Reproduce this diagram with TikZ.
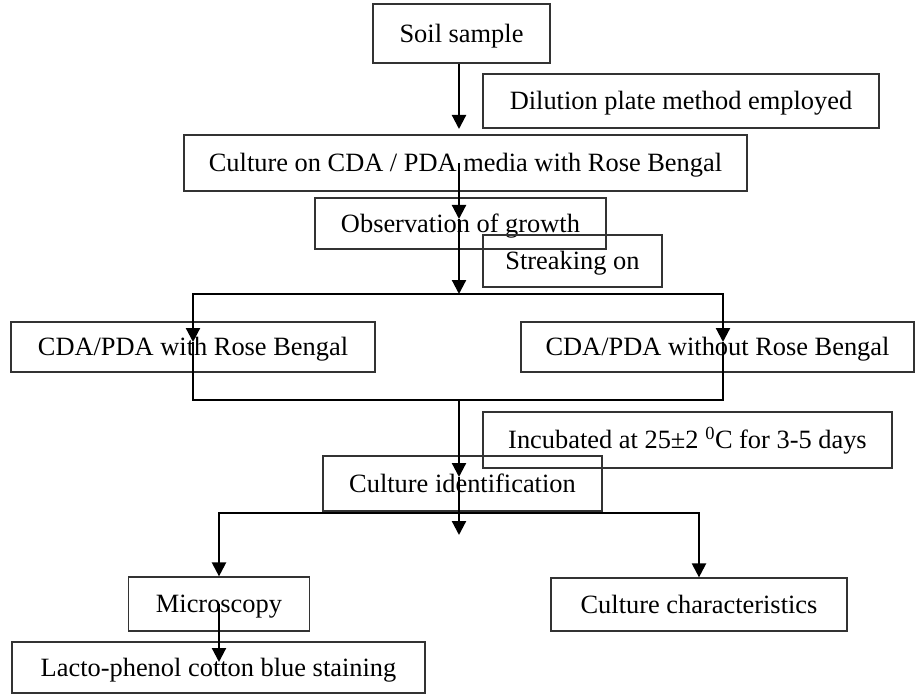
\documentclass[tikz,border=0pt]{standalone}
\usepackage{fontspec}
\setmainfont{Liberation Serif}
\usetikzlibrary{arrows.meta}

\begin{document}
\begin{tikzpicture}[x=1pt,y=-1pt,
  box/.style={draw=black!80, line width=1.2pt, inner sep=2pt,
    font=\fontsize{26.4}{30}\selectfont, text height=17.5pt, text depth=0pt},
  link/.style={line width=2.2pt},
  >={Triangle[width=14pt,length=14pt]}]
\useasboundingbox (0,0) rectangle (915,695);

% boxes
\node[box, minimum width=177pt, minimum height=59pt] (soil) at (461.5,33.5) {Soil sample};
\node[box, minimum width=396pt, minimum height=54pt] (dilution) at (681,101) {Dilution plate method employed};
\node[box, minimum width=563pt, minimum height=56pt] (culture) at (465.5,163) {Culture on CDA / PDA media with Rose Bengal};
\node[box, minimum width=291pt, minimum height=51pt] (growth) at (460.5,223.5) {Observation of growth};
\node[box, minimum width=179pt, minimum height=52pt] (streak) at (572.5,261) {Streaking on};
\node[box, minimum width=364pt, minimum height=50pt] (withrb) at (193,347) {CDA/PDA with Rose Bengal};
\node[box, minimum width=393pt, minimum height=50pt] (withoutrb) at (717.5,347) {CDA/PDA without Rose Bengal};
\node[box, minimum width=409pt, minimum height=56pt] (incub) at (687.5,440) {Incubated at 25±2 \textsuperscript{0}C for 3-5 days};
\node[box, minimum width=279pt, minimum height=55pt] (ident) at (462.5,483.5) {Culture identification};
\node[box, minimum width=181pt, minimum height=54pt] (micro) at (219,604) {Microscopy};
\node[box, minimum width=296pt, minimum height=53pt] (charac) at (699,604.5) {Culture characteristics};
\node[box, minimum width=413pt, minimum height=51pt] (lacto) at (218.5,667.5) {Lacto-phenol cotton blue staining};

% connector points
\coordinate (spine) at (459,0);
\coordinate (tipA) at (459,129);
\coordinate (tipB) at (459,219);
\coordinate (barM) at (459,294);
\coordinate (barL) at (193,294);
\coordinate (barR) at (723,294);
\coordinate (tipL) at (193,342);
\coordinate (tipR) at (723,342);
\coordinate (lowL) at (193,400);
\coordinate (lowR) at (723,400);
\coordinate (lowM) at (459,400);
\coordinate (tipC) at (459,477);
\coordinate (tipD) at (459,535);
\coordinate (forkL) at (219,513);
\coordinate (forkR) at (699,513);
\coordinate (tipE) at (219,662);

% connectors
\draw[link,->] (soil.south -| spine) -- (tipA);
\draw[link,->] (culture.center -| spine) -- (tipB);
\draw[link,->] (tipB) -- (barM);
\draw[link,<->] (tipL) -- (barL) -- (barR) -- (tipR);
\draw[link] (tipL) -- (lowL) -- (lowR) -- (tipR);
\draw[link,->] (lowM) -- (tipC);
\draw[link,->] (tipC) -- (tipD);
\draw[link,<->] (micro.north) -- (forkL) -- (forkR) -- (charac.north);
\draw[link,->] (micro.center) -- (tipE);
\end{tikzpicture}
\end{document}
